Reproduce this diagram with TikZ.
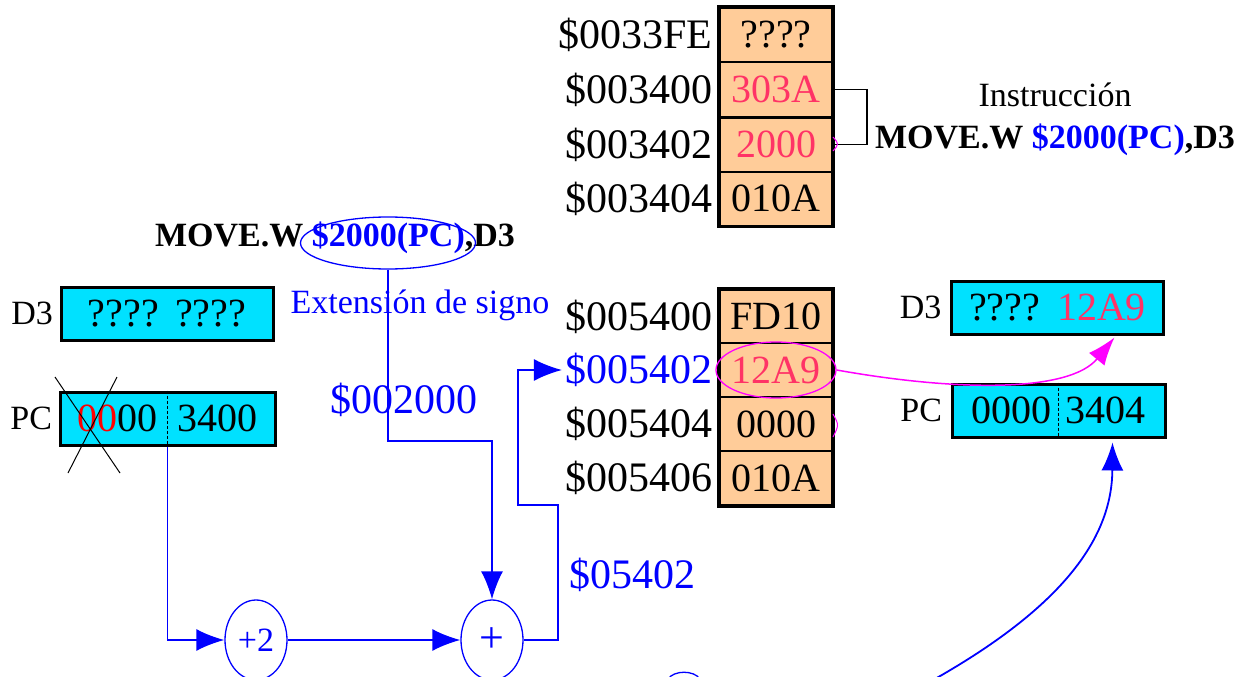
\documentclass[tikz,border=0pt]{standalone}
\usepackage{fontspec}
\setmainfont{Liberation Serif}
\definecolor{cellpeach}{HTML}{FFCC99}
\definecolor{regcyan}{HTML}{00E1FF}
\definecolor{valpink}{HTML}{FF3366}
\definecolor{linkmag}{RGB}{255,0,255}
\usetikzlibrary{shapes.geometric,arrows.meta,positioning,calc}
\newcommand{\memfont}{\fontsize{42pt}{46pt}\selectfont}
\newcommand{\cellfont}{\fontsize{40pt}{44pt}\selectfont}
\newcommand{\instrfont}{\fontsize{34pt}{38pt}\selectfont}
\newcommand{\sumfont}{\fontsize{34pt}{38pt}\selectfont}

\begin{document}
\begin{tikzpicture}[x=1pt,y=-1pt,
  cell/.style={draw, line width=2pt, fill=cellpeach, minimum width=112pt, minimum height=54pt, inner sep=0pt, font=\cellfont},
  addr/.style={font=\memfont},
  reg/.style={draw, line width=3pt, fill=regcyan, minimum width=212pt, minimum height=53pt, inner sep=0pt, font=\cellfont},
  reglabel/.style={font=\instrfont},
  flow/.style={blue, line width=1.8pt, -{Latex[length=28pt,width=22pt]}},
  adder/.style={ellipse, draw=blue, line width=1.3pt, minimum width=62pt, minimum height=80pt, inner sep=0pt, text=blue, font=\sumfont}]
\useasboundingbox (0,0) rectangle (1243,677);
\clip (0,0) rectangle (1243,677);

% memory round the instruction
\foreach \n/\y/\a/\v in {t0/35/\$0033FE/????, t1/89.5/\$003400/\textcolor{valpink}{303A},
    t2/144.5/\$003402/\textcolor{valpink}{2000}, t3/198.5/\$003404/010A}{
  \node[cell] (\n) at (776,\y) {\v};
  \node[addr, left=3pt of \n] (l\n) {\a};
}
\draw[line width=3.5pt] (t0.north west) rectangle (t3.south east);
\draw[line width=1.2pt] (t1.east) -- ++(34,0) |- (t2.east);
\draw[linkmag, line width=1pt] (833,137) .. controls (839,144) .. (833,151);

\node[font=\instrfont] (ins) at (1055,95) {Instrucción};
\node[font=\instrfont\bfseries] (insR) at (1055,140) {MOVE.W \textcolor{blue}{\$2000(PC)},D3};

% memory round the operand
\foreach \n/\y/\a/\v in {b0/316.5/\$005400/FD10, b1/370/\textcolor{blue}{\$005402}/\textcolor{valpink}{12A9},
    b2/424/\$005404/0000, b3/478/\$005406/010A}{
  \node[cell] (\n) at (776,\y) {\v};
  \node[addr, left=3pt of \n] (l\n) {\a};
}
\draw[line width=3.5pt] (b0.north west) rectangle (b3.south east);
\draw[linkmag, line width=1pt] (833,414) .. controls (839,425) .. (833,437);

% registers before
\node[reg] (d3l) at (167,313.5) {????\hspace{16pt}????};
\node[reglabel, left=3pt of d3l] {D3};
\node[reg, minimum width=215pt] (pcl) at (167.5,418.5) {\textcolor{red}{00}00\hspace{20pt}3400};
\node[reglabel, left=3pt of pcl] {PC};
\draw[line width=1pt, dash pattern=on 3pt off 2pt] (pcl.north) -- (pcl.south);
\draw[line width=1pt] (55,377) -- (120,473);
\draw[line width=1pt] (117,377) -- (68,473);

% registers after
\node[reg] (d3r) at (1057.5,307.5) {????\hspace{17pt}\textcolor{valpink}{12A9}};
\node[reglabel, left=5pt of d3r] {D3};
\node[reg, minimum width=213pt] (pcr) at (1058.5,410.5) {0000\hspace{14pt}3404};
\node[reglabel, left=5pt of pcr] {PC};
\draw[line width=1pt, dash pattern=on 3pt off 2pt] (pcr.north) -- (pcr.south);

% address calculation
\node[font=\instrfont\bfseries] (insL) at (335,238) {MOVE.W \textcolor{blue}{\$2000(PC)},D3};
\node[ellipse, draw=blue, line width=1.3pt, minimum width=175pt, minimum height=52pt] (ext) at (388,243) {};
\node[font=\instrfont, text=blue] (sext) at (420,305) {Extensión de signo};
\node[font=\memfont, text=blue] (disp) at (404,400) {\$002000};
\node[font=\memfont, text=blue] (eff) at (632,575) {\$05402};

\node[adder] (p2) at (256,640) {+2};
\node[adder, font=\fontsize{44pt}{48pt}\selectfont] (add) at (492,640) {+};

\coordinate (bend1) at (388,441);
\coordinate (up1) at (558,505);
\coordinate (up2) at (518,370);
\draw[flow] (pcl.south) |- (p2.west);
\draw[flow] (p2.east) -- (add.west);
\draw[flow] (ext.south) -- (bend1) -| (add.north);
\draw[flow] (add.east) -| (up1) -| (up2) -- (lb1.west);

% operand to D3
\node[ellipse, draw=linkmag, line width=1.3pt, minimum width=120pt, minimum height=56pt] (e12) at (b1) {};
\draw[linkmag, line width=1.5pt, -{Latex[length=28pt,width=20pt]}] (e12.east) .. controls (960,392) and (1070,392) .. ($(d3r.south)+(57,2)$);

% new PC
\coordinate (lowstart) at (915,690);
\draw[flow] (lowstart) .. controls (1060,612) and (1112,540) .. ($(pcr.south)+(54,4)$);
\draw[blue, line width=1.3pt] (668,679) .. controls (674,670) and (694,670) .. (700,679);
\end{tikzpicture}
\end{document}
